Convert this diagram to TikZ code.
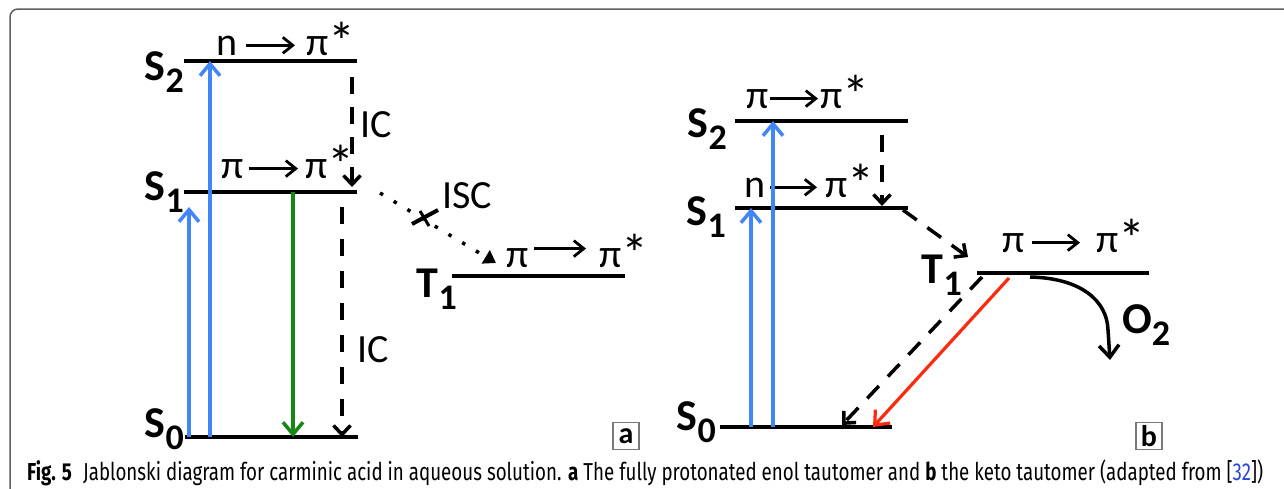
\documentclass[tikz,border=0pt]{standalone}
\usepackage{fontspec}
\setmainfont{Carlito}
\newfontfamily\capfont{Fira Sans}
\usepackage{graphicx}
\usetikzlibrary{arrows.meta,calc,positioning}
\definecolor{exciteblue}{RGB}{66,133,246}
\definecolor{fluogreen}{RGB}{22,134,22}
\definecolor{phosred}{RGB}{252,42,14}
\definecolor{framegray}{RGB}{95,95,95}
\definecolor{boxgray}{RGB}{120,120,120}
\definecolor{citeblue}{RGB}{40,70,215}
\newcommand{\lvlname}[2]{#1\raisebox{-12pt}{\fontsize{36}{36}\selectfont #2}}
\newcommand{\pistar}{π\raisebox{-5pt}{\fontsize{54}{54}\selectfont *}}
\tikzset{
 statelevel/.style={line width=4pt},
 excite/.style={exciteblue,line width=3.5pt,-{Straight Barb[length=12pt,width=20pt]}},
 emit/.style={fluogreen,line width=3.5pt,-{Straight Barb[length=12pt,width=20pt]}},
 nonrad/.style={line width=3.5pt,dash pattern=on 17pt off 13pt,-{Straight Barb[length=9pt,width=17pt]}},
 isc/.style={line width=3.5pt,dash pattern=on 3.5pt off 12.5pt,-{Triangle[length=12pt,width=15pt]}},
 phos/.style={phosred,line width=3.2pt,-{Straight Barb[length=12pt,width=20pt]}},
 orb/.style={line width=2.8pt,-{Straight Barb[length=10pt,width=16pt]}},
 statelbl/.style={font=\fontsize{44}{44}\selectfont\bfseries,inner sep=0pt},
 orblbl/.style={font=\fontsize{40}{40}\selectfont,inner sep=0pt},
 panelbox/.style={draw=boxgray,line width=1.2pt,minimum width=26pt,minimum height=27pt,
  inner sep=0pt,font=\fontsize{30}{30}\selectfont\bfseries},
}
\begin{document}
\begin{tikzpicture}[x=1pt,y=-1pt]
 \useasboundingbox (0,0) rectangle (1284,488);
 % Ramka.
 \draw[framegray,line width=1.5pt,rounded corners=8pt] (10,520) -- (10,9) -- (1320,9);
 % Panel a: poziomy.
 \coordinate (aS2L) at (184,61);  \coordinate (aS2R) at (357,61);
 \coordinate (aS1L) at (184,192); \coordinate (aS1R) at (357,192);
 \coordinate (aT1L) at (452,276); \coordinate (aT1R) at (625,276);
 \coordinate (aS0L) at (185,437); \coordinate (aS0R) at (358,437);
 \foreach \lv in {aS2,aS1,aT1,aS0} \draw[statelevel] (\lv L) -- (\lv R);
 \node[statelbl,anchor=base east] (aS2name) at (184,80) {\lvlname{S}{2}};
 \node[statelbl,anchor=base east] (aS1name) at (184,200) {\lvlname{S}{1}};
 \node[statelbl,anchor=base east] (aT1name) at (457,297) {\lvlname{T}{1}};
 \node[statelbl,anchor=base east] (aS0name) at (184,437) {\lvlname{S}{0}};
 % Panel a: orbitale.
 \node[orblbl,anchor=base west] (aS2from) at (216,55) {n};
 \node[orblbl,anchor=base west] (aS2to) at (306,55) {\pistar};
 \draw[orb,shorten <=9pt,shorten >=11pt] (aS2from.east) -- (aS2from.east -| aS2to.west);
 \node[orblbl,anchor=base west] (aS1from) at (221,178) {π};
 \node[orblbl,anchor=base west] (aS1to) at (305,178) {\pistar};
 \draw[orb,shorten <=5pt,shorten >=7pt] (aS1from.east) -- (aS1from.east -| aS1to.west);
 \node[orblbl,anchor=base west] (aT1from) at (506,267) {π};
 \node[orblbl,anchor=base west] (aT1to) at (599,267) {\pistar};
 \draw[orb,shorten <=5pt,shorten >=13pt] ([yshift=9pt]aT1from.east) -- ([yshift=9pt]aT1from.east -| aT1to.west);
 % Panel a: przejscia.
 \draw[excite] (189,0 |- aS0L) -- (189,207);
 \draw[excite] (210,0 |- aS0L) -- (210,0 |- aS2L);
 \draw[emit] (293,0 |- aS1L) -- (293,0 |- aS0L);
 \draw[nonrad] (352,77) -- (352,187);
 \node[orblbl,anchor=base west] (aIC1) at (360,137) {IC};
 \draw[nonrad,dash pattern=on 17pt off 15pt] (342,207) -- (342,0 |- aS0L);
 \node[orblbl,anchor=base west] (aIC2) at (357,362) {IC};
 \draw[isc] (380,193) -- (496,263);
 \draw[line width=4pt] (412,224) -- (438,210);
 \draw[line width=3pt] (420,211) -- (429,226);
 \node[orblbl,anchor=base west] (aISC) at (442,208) {ISC};
 \node[panelbox] (aBox) at (626,436) {a};
 % Panel b: poziomy.
 \coordinate (bS2L) at (735,121); \coordinate (bS2R) at (908,121);
 \coordinate (bS1L) at (735,208); \coordinate (bS1R) at (908,208);
 \coordinate (bT1L) at (977,273); \coordinate (bT1R) at (1149,273);
 \coordinate (bS0L) at (720,427); \coordinate (bS0R) at (892,427);
 \foreach \lv in {bS2,bS1,bT1,bS0} \draw[statelevel] (\lv L) -- (\lv R);
 \node[statelbl,anchor=base east] (bS2name) at (727,137) {\lvlname{S}{2}};
 \node[statelbl,anchor=base east] (bS1name) at (726,225) {\lvlname{S}{1}};
 \node[statelbl,anchor=base east] (bT1name) at (962,283) {\lvlname{T}{1}};
 \node[statelbl,anchor=base east] (bS0name) at (716,430) {\lvlname{S}{0}};
 % Panel b: orbitale.
 \node[orblbl,anchor=base west] (bS2from) at (746,108) {π};
 \node[orblbl,anchor=base west] (bS2to) at (820,108) {\pistar};
 \draw[orb,shorten <=1pt,shorten >=2pt] (bS2from.east) -- (bS2from.east -| bS2to.west);
 \node[orblbl,anchor=base west] (bS1from) at (744,197) {n};
 \node[orblbl,anchor=base west] (bS1to) at (825,197) {\pistar};
 \draw[orb,shorten <=5pt,shorten >=8pt] (bS1from.east) -- (bS1from.east -| bS1to.west);
 \node[orblbl,anchor=base west] (bT1from) at (1002,252) {π};
 \node[orblbl,anchor=base west] (bT1to) at (1096,252) {\pistar};
 \draw[orb,shorten <=7pt,shorten >=16pt] (bT1from.east) -- (bT1from.east -| bT1to.west);
 % Panel b: przejscia.
 \draw[excite] (751,0 |- bS0L) -- (751,0 |- bS1L);
 \draw[excite] (773,0 |- bS0L) -- (773,0 |- bS2L);
 \draw[nonrad] (882,135) -- (882,206);
 \draw[nonrad] (903,210) -- (968,257);
 \draw[nonrad] (982,277) -- (842,425);
 \draw[phos] (1009,278) -- (873,427);
 \draw[line width=3.5pt,-{Straight Barb[length=12pt,width=20pt]}]
  (1030,277) .. controls (1080,278) and (1107,300) .. (1108,330) -- (1110,360);
 \node[statelbl,anchor=base west] (bO2) at (1122,333) {\lvlname{O}{2}};
 \node[panelbox] (bBox) at (1149,436) {b};
 % Podpis.
 \node[anchor=base west,inner sep=0pt] (caption) at (27,480)
  {\resizebox{1236pt}{\height}{\capfont\fontsize{24.5}{28}\selectfont\textbf{Fig. 5}\hspace{0.6em}Jablonski
  diagram for carminic acid in aqueous solution. \textbf{a} The fully protonated enol tautomer and
  \textbf{b} the keto tautomer (adapted from [\textcolor{citeblue}{32}])}};
\end{tikzpicture}
\end{document}
